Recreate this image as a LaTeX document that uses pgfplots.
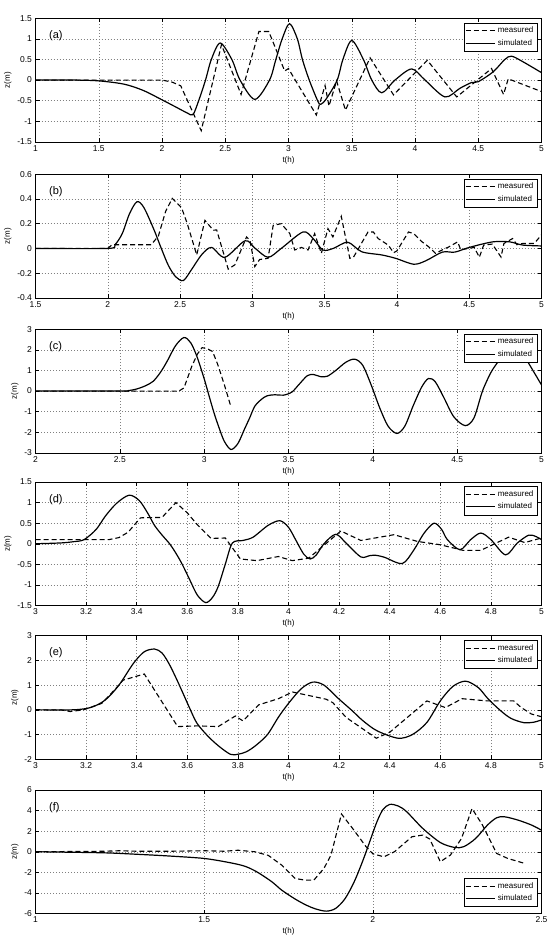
\documentclass[border=0pt]{standalone}
\usepackage{pgfplots}
\pgfplotsset{compat=1.18}
\usepackage{fontspec}
\setmainfont{Liberation Sans}
\pgfplotsset{
  panel/.style={
    scale only axis, width=506pt, height=123.5pt,
    anchor=north west,
    axis line style={black, line width=0.5pt},
    grid=major,
    major grid style={black!50, line width=0.45pt, dash pattern=on 0.8pt off 2.2pt},
    tick align=inside, major tick length=4pt,
    tick style={black, line width=0.5pt},
    ticklabel style={font=\fontsize{8.5}{10}\selectfont},
    /pgf/number format/assume math mode=true,
    xlabel={t(h)}, ylabel={z(m)},
    label style={font=\fontsize{8}{9}\selectfont},
    ylabel style={yshift=-1pt},
    xlabel style={yshift=2pt},
    legend cell align=left,
    legend style={at={(rel axis cs:0.992,0.965)}, anchor=north east,
      font=\fontsize{8}{9}\selectfont, draw=black, line width=0.5pt,
      fill=white, inner sep=1.2pt, row sep=-1pt,
      nodes={inner sep=2.6pt, text height=6.2pt, text depth=2pt}},
    legend image code/.code={\draw[#1] (0pt,0pt) -- (29pt,0pt);},
  },
  meas/.style={black, line width=1.1pt, dash pattern=on 5pt off 3pt},
  simu/.style={black, line width=1.2pt, smooth},
}
\newcommand{\plab}[1]{\node[font=\fontsize{11}{12}\selectfont, anchor=west] at (rel axis cs:0.02,0.86) {#1};}
\begin{document}
\begin{tikzpicture}
\path[use as bounding box] (0,0) rectangle (550pt,-943pt);

% (a)
\begin{axis}[panel, at={(35.5pt,-18.3pt)},
  xmin=1, xmax=5, ymin=-1.5, ymax=1.5,
  xtick={1,1.5,2,2.5,3,3.5,4,4.5,5}, ytick={-1.5,-1,-0.5,0,0.5,1,1.5}]
\addplot[meas] coordinates {(1,0) (2.0,0) (2.08,-0.05) (2.148,-0.14) (2.31,-1.23) (2.47,0.86) (2.625,-0.35) (2.766,1.18) (2.844,1.18) (2.97,0.22) (3.0,0.28) (3.03,0.12) (3.22,-0.85) (3.289,-0.13) (3.32,-0.63) (3.38,-0.02) (3.45,-0.73) (3.645,0.54) (3.83,-0.36) (4.097,0.48) (4.33,-0.41) (4.605,0.28) (4.70,-0.35) (4.737,0.03) (5,-0.28)};
\addlegendentry{measured}
\addplot[simu] coordinates {(1,0) (1.3,0) (1.5,-0.02) (1.7,-0.1) (1.85,-0.25) (2.0,-0.48) (2.1,-0.64) (2.2,-0.8) (2.245,-0.84) (2.29,-0.5) (2.344,0) (2.39,0.5) (2.46,0.9) (2.552,0.5) (2.617,0) (2.734,-0.47) (2.85,0) (2.9,0.5) (2.95,1.0) (3.008,1.37) (3.07,1.0) (3.11,0.5) (3.164,0) (3.23,-0.5) (3.255,-0.59) (3.3,-0.45) (3.385,0) (3.43,0.5) (3.5,0.96) (3.592,0.5) (3.658,0) (3.737,-0.31) (3.842,0) (3.974,0.27) (4.079,0) (4.237,-0.41) (4.355,-0.2) (4.447,-0.06) (4.5,-0.04) (4.618,0.2) (4.71,0.5) (4.763,0.58) (4.85,0.45) (5,0.18)};
\addlegendentry{simulated}
\plab{(a)}
\end{axis}

% (b)
\begin{axis}[panel, at={(35.5pt,-174.3pt)},
  xmin=1.5, xmax=5, ymin=-0.4, ymax=0.6,
  xtick={1.5,2,2.5,3,3.5,4,4.5,5}, ytick={-0.4,-0.2,0,0.2,0.4,0.6}]
\addplot[meas] coordinates {(1.5,0) (2.0,0) (2.03,0.03) (2.3,0.03) (2.35,0.1) (2.40,0.3) (2.446,0.405) (2.51,0.33) (2.55,0.2) (2.615,-0.053) (2.672,0.227) (2.73,0.147) (2.753,0.15) (2.833,-0.168) (2.879,-0.133) (2.96,0.093) (2.983,0.067) (3.017,-0.147) (3.05,-0.09) (3.109,-0.08) (3.144,0.187) (3.2,0.2) (3.259,0.12) (3.293,-0.013) (3.339,0.008) (3.385,-0.013) (3.431,0.12) (3.477,-0.04) (3.523,0.16) (3.557,0.093) (3.615,0.26) (3.674,-0.08) (3.70,-0.07) (3.80,0.133) (3.837,0.133) (3.87,0.08) (3.94,0.027) (3.977,-0.035) (4.0,-0.02) (4.08,0.133) (4.116,0.12) (4.174,0.053) (4.22,0.013) (4.267,-0.04) (4.30,-0.02) (4.36,0.013) (4.42,0.053) (4.442,-0.013) (4.47,-0.005) (4.535,0.008) (4.57,-0.072) (4.60,0.027) (4.66,0.035) (4.72,-0.07) (4.74,0.04) (4.80,0.08) (4.83,0.03) (4.87,0.04) (4.95,0.04) (5,0.11)};
\addlegendentry{measured}
\addplot[simu] coordinates {(1.5,0) (2.0,0) (2.05,0.03) (2.1,0.12) (2.15,0.28) (2.202,0.378) (2.25,0.33) (2.32,0.15) (2.37,0) (2.42,-0.14) (2.47,-0.23) (2.523,-0.26) (2.58,-0.17) (2.65,-0.05) (2.718,0.008) (2.81,-0.072) (2.95,0.062) (3.02,0.0) (3.109,-0.072) (3.2,0.0) (3.35,0.133) (3.42,0.08) (3.488,-0.013) (3.56,0.0) (3.66,0.05) (3.756,-0.027) (3.895,-0.053) (3.99,-0.08) (4.116,-0.128) (4.2,-0.1) (4.314,-0.03) (4.4,-0.03) (4.5,0.008) (4.663,0.053) (4.78,0.053) (4.87,0.027) (5,0.02)};
\addlegendentry{simulated}
\plab{(b)}
\end{axis}

% (c)
\begin{axis}[panel, at={(35.5pt,-329.3pt)},
  xmin=2, xmax=5, ymin=-3, ymax=3,
  xtick={2,2.5,3,3.5,4,4.5,5}, ytick={-3,-2,-1,0,1,2,3}]
\addplot[meas] coordinates {(2,0) (2.85,0) (2.88,0.15) (2.9,0.6) (2.926,1.19) (2.96,1.8) (2.988,2.11) (3.02,2.05) (3.05,1.92) (3.08,1.3) (3.12,0.3) (3.155,-0.66)};
\addlegendentry{measured}
\addplot[simu] coordinates {(2,0) (2.5,0) (2.55,0.02) (2.6,0.1) (2.65,0.25) (2.697,0.47) (2.74,0.9) (2.78,1.44) (2.83,2.2) (2.88,2.6) (2.92,2.35) (2.957,1.68) (3.0,0.6) (3.03,-0.26) (3.06,-1.1) (3.092,-1.87) (3.12,-2.45) (3.159,-2.84) (3.2,-2.55) (3.238,-1.87) (3.27,-1.3) (3.3,-0.74) (3.34,-0.4) (3.373,-0.23) (3.42,-0.18) (3.47,-0.2) (3.52,-0.05) (3.56,0.3) (3.612,0.75) (3.65,0.8) (3.69,0.7) (3.73,0.72) (3.78,1.0) (3.84,1.4) (3.893,1.55) (3.94,1.25) (3.99,0.3) (4.04,-0.8) (4.09,-1.7) (4.143,-2.06) (4.19,-1.7) (4.24,-0.7) (4.29,0.2) (4.33,0.61) (4.37,0.45) (4.42,-0.3) (4.48,-1.25) (4.548,-1.68) (4.6,-1.3) (4.65,0.0) (4.7,0.9) (4.74,1.4) (4.79,2.0) (4.83,2.15) (4.88,1.9) (4.92,1.4) (4.96,0.85) (5,0.3)};
\addlegendentry{simulated}
\plab{(c)}
\end{axis}

% (d)
\begin{axis}[panel, at={(35.5pt,-482pt)},
  xmin=3, xmax=5, ymin=-1.5, ymax=1.5,
  xtick={3,3.2,3.4,3.6,3.8,4,4.2,4.4,4.6,4.8,5}, ytick={-1.5,-1,-0.5,0,0.5,1,1.5}]
\addplot[meas] coordinates {(3,0.1) (3.29,0.1) (3.33,0.15) (3.366,0.28) (3.415,0.63) (3.5,0.64) (3.555,1.0) (3.6,0.75) (3.64,0.46) (3.694,0.13) (3.75,0.14) (3.81,-0.37) (3.875,-0.41) (3.96,-0.31) (4.015,-0.41) (4.08,-0.35) (4.207,0.31) (4.286,0.08) (4.417,0.22) (4.51,0.056) (4.6,-0.024) (4.69,-0.16) (4.76,-0.16) (4.87,0.16) (4.934,0.03) (5,0.14)};
\addlegendentry{measured}
\addplot[simu] coordinates {(3,0) (3.1,0.02) (3.15,0.05) (3.192,0.1) (3.24,0.35) (3.276,0.67) (3.32,0.98) (3.37,1.18) (3.41,1.05) (3.443,0.75) (3.47,0.45) (3.499,0.22) (3.53,0.0) (3.555,-0.23) (3.58,-0.5) (3.61,-0.88) (3.64,-1.25) (3.673,-1.43) (3.7,-1.3) (3.722,-1.04) (3.75,-0.5) (3.778,0.016) (3.82,0.08) (3.86,0.16) (3.92,0.45) (3.966,0.56) (4.0,0.4) (4.028,0.1) (4.06,-0.25) (4.086,-0.37) (4.11,-0.27) (4.14,0.0) (4.187,0.23) (4.23,0.0) (4.286,-0.32) (4.32,-0.29) (4.345,-0.28) (4.38,-0.33) (4.45,-0.48) (4.496,-0.145) (4.535,0.25) (4.575,0.5) (4.605,0.35) (4.628,0.1) (4.678,-0.145) (4.72,0.1) (4.76,0.26) (4.8,0.1) (4.858,-0.27) (4.904,0.016) (4.95,0.21) (4.98,0.17) (5,0.1)};
\addlegendentry{simulated}
\plab{(d)}
\end{axis}

% (e)
\begin{axis}[panel, at={(35.5pt,-635.7pt)},
  xmin=3, xmax=5, ymin=-2, ymax=3,
  xtick={3,3.2,3.4,3.6,3.8,4,4.2,4.4,4.6,4.8,5}, ytick={-2,-1,0,1,2,3}]
\addplot[meas] coordinates {(3,0) (3.1,0) (3.137,-0.07) (3.19,0) (3.262,0.26) (3.318,0.87) (3.346,1.2) (3.43,1.45) (3.562,-0.68) (3.64,-0.65) (3.722,-0.68) (3.79,-0.25) (3.82,-0.45) (3.882,0.2) (3.96,0.45) (4.016,0.72) (4.148,0.43) (4.175,0.29) (4.228,-0.31) (4.347,-1.15) (4.4,-0.91) (4.547,0.36) (4.62,0.09) (4.686,0.45) (4.786,0.36) (4.89,0.36) (4.92,0.09) (4.96,-0.17) (5,-0.28)};
\addlegendentry{measured}
\addplot[simu] coordinates {(3,0) (3.15,0) (3.22,0.1) (3.276,0.4) (3.33,1.0) (3.387,1.88) (3.43,2.35) (3.471,2.46) (3.5,2.3) (3.527,1.88) (3.555,1.3) (3.583,0.67) (3.61,0.05) (3.638,-0.54) (3.68,-1.05) (3.722,-1.45) (3.77,-1.8) (3.8,-1.8) (3.833,-1.7) (3.87,-1.45) (3.917,-1.0) (3.96,-0.3) (4.0,0.26) (4.05,0.85) (4.095,1.12) (4.14,1.0) (4.2,0.43) (4.25,-0.02) (4.294,-0.44) (4.35,-0.85) (4.433,-1.15) (4.49,-1.0) (4.547,-0.51) (4.6,0.36) (4.65,0.95) (4.7,1.16) (4.75,0.9) (4.79,0.43) (4.84,-0.05) (4.88,-0.35) (4.93,-0.52) (4.97,-0.5) (5,-0.41)};
\addlegendentry{simulated}
\plab{(e)}
\end{axis}

% (f)
\begin{axis}[panel, at={(35.5pt,-790pt)},
  xmin=1, xmax=2.5, ymin=-6, ymax=6,
  xtick={1,1.5,2,2.5}, ytick={-6,-4,-2,0,2,4,6},
  legend style={at={(rel axis cs:0.992,0.055)}, anchor=south east}]
\addplot[meas] coordinates {(1,0) (1.2,0.05) (1.25,0.1) (1.3,0.05) (1.4,0.05) (1.5,0.1) (1.56,0.05) (1.6,0.15) (1.65,0.0) (1.69,-0.35) (1.73,-1.3) (1.77,-2.6) (1.8,-2.76) (1.825,-2.76) (1.855,-1.62) (1.876,-0.32) (1.907,3.67) (1.94,2.27) (1.98,0.49) (2.0,-0.2) (2.033,-0.49) (2.064,0) (2.116,1.46) (2.148,1.62) (2.169,1.23) (2.2,-0.97) (2.23,-0.32) (2.263,1.3) (2.294,4.2) (2.325,2.6) (2.367,-0.16) (2.4,-0.65) (2.45,-1.13)};
\addlegendentry{measured}
\addplot[simu] coordinates {(1,0) (1.2,-0.1) (1.31,-0.26) (1.4,-0.42) (1.5,-0.65) (1.573,-1.04) (1.62,-1.4) (1.656,-1.95) (1.7,-2.9) (1.73,-3.73) (1.77,-4.6) (1.803,-5.19) (1.83,-5.55) (1.862,-5.77) (1.89,-5.5) (1.918,-4.54) (1.945,-2.9) (1.97,-0.9) (1.991,1.0) (2.012,2.9) (2.03,4.1) (2.05,4.6) (2.075,4.45) (2.1,3.9) (2.148,2.27) (2.2,0.9) (2.242,0.42) (2.27,0.5) (2.305,1.3) (2.34,2.6) (2.367,3.3) (2.39,3.4) (2.43,3.08) (2.47,2.6) (2.5,2.1)};
\addlegendentry{simulated}
\plab{(f)}
\end{axis}
\end{tikzpicture}
\end{document}
